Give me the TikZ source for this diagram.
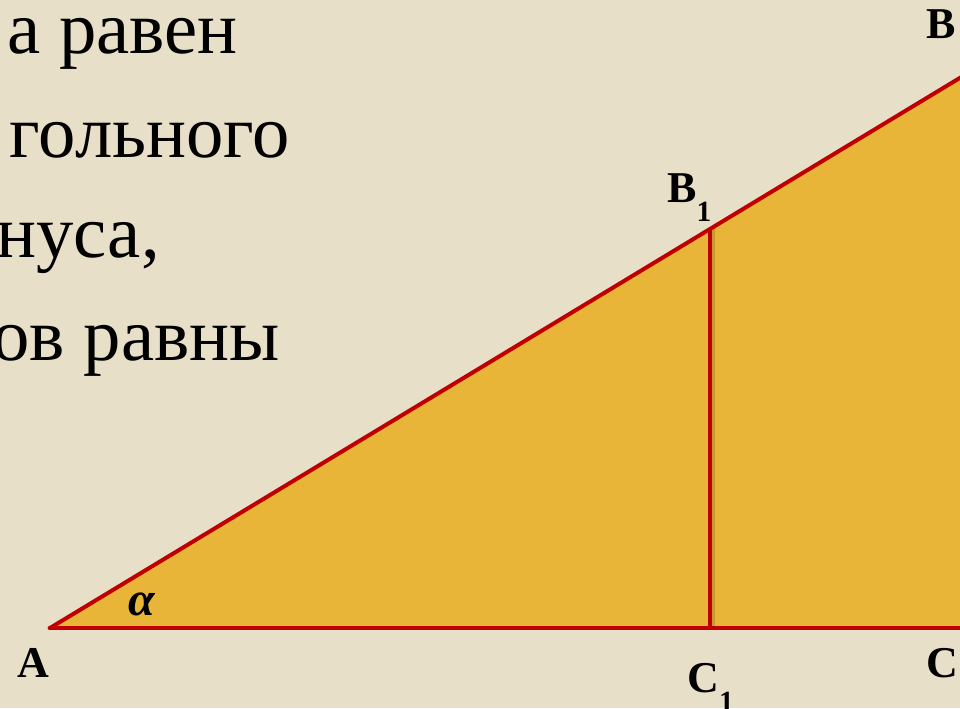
\documentclass[tikz,border=0pt]{standalone}
\usepackage{fontspec}
\setmainfont{Liberation Serif}
\usetikzlibrary{positioning,calc}
\definecolor{slideBg}{HTML}{E7DFC7}
\definecolor{triFill}{HTML}{E9B539}
\definecolor{sideRed}{HTML}{C00000}
\newcommand{\idx}[1]{\raisebox{-0.45em}{\fontsize{22}{22}\selectfont #1}}

\begin{document}
\begin{tikzpicture}[x=0.75pt,y=-0.75pt,font=\bfseries\fontsize{33}{33}\selectfont]
    \tikzset{
        side/.style={draw=sideRed,line width=3pt,line cap=round,line join=round},
        ptLabel/.style={anchor=base west,inner sep=0pt},
        slideText/.style={anchor=base east,inner sep=0pt,font=\fontsize{56}{56}\selectfont}
    }
    \useasboundingbox (0,0) rectangle (960,708);
    \fill[slideBg] (0,0) rectangle (960,708);
    \clip (0,0) rectangle (960,708);
    % Slide text, cut at the left edge
    \node[slideText] (line1) at (238,53) {а равен};
    \node[slideText] (line2) at (290,157) {гольного};
    \node[slideText] (line3) at (160,257) {нуса,};
    \node[slideText] (line4) at (280,360) {ов равны};
    % Points
    \coordinate (A) at (50,628);
    \coordinate (B) at (968,73);
    \coordinate (C) at (968,628);
    \coordinate (B1) at (710,229);
    \coordinate (C1) at (710,628);
    % Triangle
    \fill[triFill] (A) -- (B) -- (C) -- cycle;
    \draw[black,opacity=0.15,line width=5pt] ($(C1)+(1.5,0)$) -- ($(B1)+(1.5,0)$);
    \draw[side,line width=2.4pt] (C1) -- (B1);
    \draw[side] (A) -- (B);
    \draw[side,line width=3.6pt] (A) -- (C);
    % Labels
    \node[ptLabel] (lblA) at (17,677) {A};
    \node[ptLabel] (lblB) at (926,38) {B};
    \node[ptLabel] (lblC) at (926,677) {C};
    \node[ptLabel] (lblB1) at (667,202) {B\idx{1}};
    \node[ptLabel] (lblC1) at (687,692) {C\idx{1}};
    \node[inner sep=0pt] (alpha) at (142,604) {\bfseries\itshape\fontsize{36}{36}\selectfont α};
\end{tikzpicture}
\end{document}
